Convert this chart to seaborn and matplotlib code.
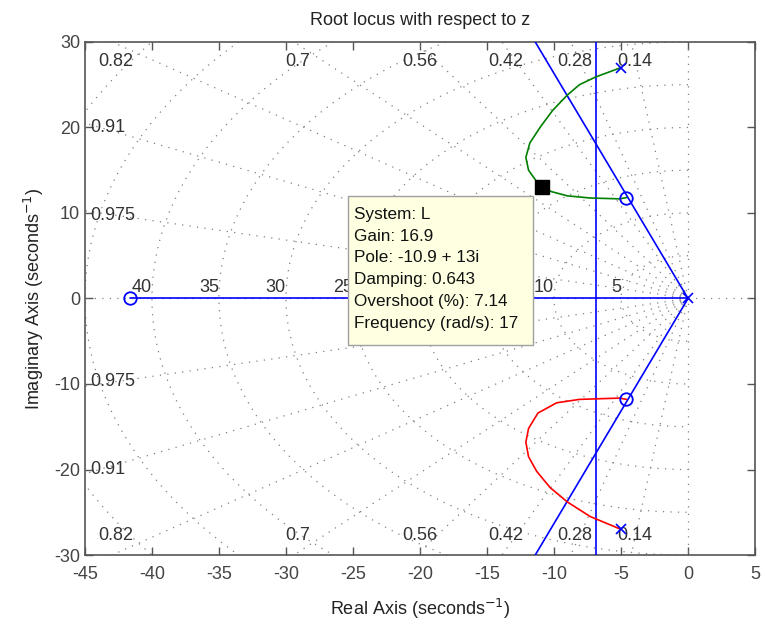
import numpy as np
import pandas as pd
import matplotlib
matplotlib.use("Agg")
import matplotlib.pyplot as plt
import seaborn as sns
from matplotlib.patches import Rectangle

# ---------------- data ----------------
poles_re = [0.0, -5.0, -5.0]
poles_im = [0.0, 27.0, -27.0]
zeros_re = [-41.6, -4.6, -4.6]
zeros_im = [0.0, 11.8, -11.8]

green_re = [-5.0, -6.9, -8.1, -9.0, -10.1, -11.0, -11.8, -12.1, -11.9, -11.4, -10.9, -10.2, -9.0, -7.3, -5.1, -4.6]
green_im = [27.0, 25.9, 25.0, 23.8, 22.0, 20.1, 18.2, 16.5, 15.0, 13.9, 13.0, 12.5, 12.0, 11.75, 11.65, 11.8]
red_re = [-4.6, -5.1, -8.1, -9.8, -11.2, -11.9, -12.1, -11.9, -11.3, -10.3, -9.0, -7.3, -5.0]
red_im = [-11.8, -11.65, -11.8, -12.2, -13.4, -15.2, -16.8, -18.5, -20.2, -22.1, -23.8, -25.5, -27.0]

blue_h_re = [-41.6, 0.0]
blue_h_im = [0.0, 0.0]
blue_d1_re = [0.0, -11.4]
blue_d1_im = [0.0, 30.0]
blue_d2_re = [0.0, -11.4]
blue_d2_im = [0.0, -30.0]
blue_v_re = [-6.9, -6.9]
blue_v_im = [-30.0, 30.0]

zeta_vals = [0.14, 0.28, 0.42, 0.56, 0.7, 0.82, 0.91, 0.975]
zeta_top = ["0.14", "0.28", "0.42", "0.56", "0.7", "0.82"]
zeta_left = ["0.91", "0.975"]
wn_vals = [5, 10, 15, 20, 25, 30, 35, 40, 45, 50]
# labels visible in the reference (15 and 20 lie under the data tip)
wn_label_vals = [5, 10, 25, 30, 35, 40]
wn_labels = ["5", "10", "25", "30", "35", "40"]

selected_re = -10.9
selected_im = 13.0
tip_lines = ["System: L", "Gain: 16.9", "Pole: -10.9 + 13i", "Damping: 0.643",
             "Overshoot (%): 7.14", "Frequency (rad/s): 17"]

xticks = [-45, -40, -35, -30, -25, -20, -15, -10, -5, 0, 5]
yticks = [-30, -20, -10, 0, 10, 20, 30]

# ---------------- style ----------------
sns.set_style("ticks")
plt.rcParams['font.family'] = ['Liberation Sans', 'DejaVu Sans']
plt.rcParams['axes.unicode_minus'] = False
AX_COL = '#555555'
GRID_COL = '#808080'

fig = plt.figure(figsize=(7.65, 6.26), dpi=100)
ax = fig.add_axes([0.111, 0.1134, 0.876, 0.8196])
ax.set_xlim(-45, 5)
ax.set_ylim(-30, 30)

# ---------------- grid (sgrid) ----------------
gls = (0, (1, 5))
for z in zeta_vals:
    s = np.sqrt(1 - z ** 2) / z
    ax.plot([0, -80], [0, 80 * s], color=GRID_COL, ls=gls, lw=0.9, zorder=1)
    ax.plot([0, -80], [0, -80 * s], color=GRID_COL, ls=gls, lw=0.9, zorder=1)
ax.plot([0, -60], [0, 0], color=GRID_COL, ls=gls, lw=0.9, zorder=1)
ax.plot([0, 0], [-40, 40], color=GRID_COL, ls=gls, lw=0.9, zorder=1)
ax.plot([0, 10], [0, 0], color=GRID_COL, ls=gls, lw=0.9, zorder=1)
th = np.linspace(np.pi / 2, 3 * np.pi / 2, 400)
for w in wn_vals:
    ax.plot(w * np.cos(th), w * np.sin(th), color=GRID_COL, ls=gls, lw=0.9, zorder=1)

# damping labels
for z, lab in zip(zeta_vals[:6], zeta_top):
    s = np.sqrt(1 - z ** 2) / z
    xx = -30 / s + 0.3
    for yy in (27.7, -27.7):
        ax.text(xx, yy, lab, ha='center', va='center', fontsize=13, color='#333333', zorder=3)
for z, lab in zip(zeta_vals[6:], zeta_left):
    s = np.sqrt(1 - z ** 2) / z
    yy = 45 * s - 0.5
    for y2 in (yy, -yy):
        ax.text(-44.6, y2, lab, ha='left', va='center', fontsize=13, color='#333333', zorder=3)
# frequency labels
for w, lab in zip(wn_label_vals, wn_labels):
    ax.text(-w, 0.3, lab, ha='right', va='bottom', fontsize=13, color='#333333', zorder=3)

# ---------------- loci ----------------
BLUE = '#0000ff'
def locus(xs, ys, col):
    df = pd.DataFrame({"re": xs, "im": ys})
    sns.lineplot(data=df, x="re", y="im", sort=False, estimator=None,
                 errorbar=None, color=col, lw=1.2, ax=ax, zorder=4)

for xs, ys in [(blue_h_re, blue_h_im), (blue_d1_re, blue_d1_im),
               (blue_d2_re, blue_d2_im), (blue_v_re, blue_v_im)]:
    locus(xs, ys, BLUE)
locus(green_re, green_im, '#008000')
locus(red_re, red_im, '#ff0000')

ax.plot(zeros_re, zeros_im, 'o', mfc='none', mec=BLUE, mew=1.3, ms=9, zorder=5)
ax.plot(poles_re, poles_im, 'x', color=BLUE, mew=1.2, ms=6.5, zorder=5)

ax.plot([selected_re], [selected_im], 's', color='black', ms=10, zorder=6)

# ---------------- datatip ----------------
ax.add_patch(Rectangle((-25.4, -5.4), 13.8, 17.4, facecolor='#ffffe1',
                       edgecolor='#a0a0a0', lw=1.0, zorder=7))
ax.text(-24.9, 10.7, "\n".join(tip_lines), ha='left', va='top', fontsize=12.3,
        linespacing=1.56, color='#111111', zorder=8)

# ---------------- axes cosmetics ----------------
ax.set_xticks(xticks)
ax.set_yticks(yticks)
ax.tick_params(direction='in', length=6, width=1, colors=AX_COL, labelsize=13,
               top=True, right=True, labelcolor='#444444')
ax.tick_params(axis='x', pad=8)
for sp in ax.spines.values():
    sp.set_visible(True)
    sp.set_color(AX_COL)
    sp.set_linewidth(1.2)
ax.set_title("Root locus with respect to z", fontsize=13, color='#222222', pad=12)
ax.set_xlabel("Real Axis (seconds$^{-1}$)", fontsize=13, color='#222222', labelpad=10)
ax.set_ylabel("Imaginary Axis (seconds$^{-1}$)", fontsize=13, color='#222222', labelpad=6)

fig.savefig("out.png", dpi=100)
